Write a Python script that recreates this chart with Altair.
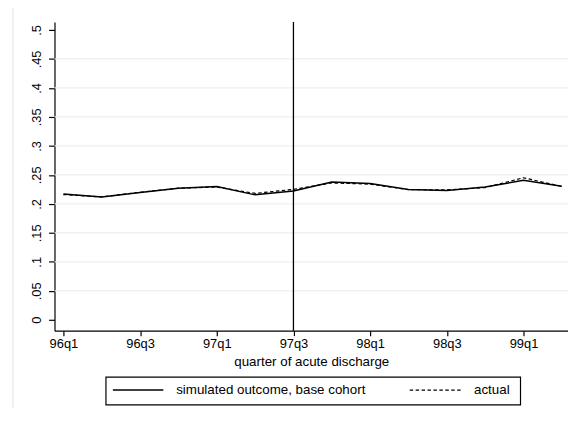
import altair as alt
import pandas as pd

# ---- data ----
quarters = ["96q1", "96q2", "96q3", "96q4", "97q1", "97q2", "97q3",
            "97q4", "98q1", "98q2", "98q3", "98q4", "99q1", "99q2"]
simulated = [0.217, 0.212, 0.2195, 0.227, 0.230, 0.2155, 0.222,
             0.2378, 0.235, 0.2247, 0.223, 0.229, 0.2406, 0.2304]
actual = [0.216, 0.212, 0.220, 0.227, 0.229, 0.218, 0.225,
          0.236, 0.234, 0.2245, 0.224, 0.228, 0.245, 0.230]
series_names = ["simulated outcome, base cohort", "actual"]
x_tick_labels = ["96q1", "96q3", "97q1", "97q3", "98q1", "98q3", "99q1"]
y_ticks = [0, 0.05, 0.1, 0.15, 0.2, 0.25, 0.3, 0.35, 0.4, 0.45, 0.5]
grid_values = [0.05, 0.1, 0.15, 0.2, 0.25, 0.3, 0.35, 0.4, 0.45]
vline_quarter = ["97q3"]

# ---- layout ----
W, H = 519, 312
STEP = 38.75
X0 = -9 / STEP
X1 = X0 + W / STEP
Y0, Y1 = -0.0188, 0.5137
FONT = "Liberation Sans"

df = pd.DataFrame({
    "i": list(range(len(quarters))),
    "quarter": quarters,
    "sim": simulated,
    "act": actual,
})
grid_df = pd.DataFrame({"g": grid_values})
vline_df = pd.DataFrame({"i": [quarters.index(q) for q in vline_quarter]})
one = pd.DataFrame({"a": [0]})

label_array = "[" + ",".join("'" + q + "'" for q in quarters) + "]"
x_axis = alt.Axis(
    values=[quarters.index(q) for q in x_tick_labels],
    labelExpr=label_array + "[datum.value]",
    title="quarter of acute discharge", grid=False, tickSize=5,
    labelPadding=2, labelFontSize=13, titleFontSize=13.5,
    titleFontWeight="normal", titlePadding=4, labelFlush=False,
    labelOverlap=False, labelFont=FONT, titleFont=FONT,
    domainColor="black", tickColor="black", labelColor="black",
    titleColor="black", domainWidth=1.2, tickWidth=1.2,
)
y_axis = alt.Axis(
    values=y_ticks,
    labelExpr="replace(format(datum.value, '.2~f'), '0.', '.')",
    labelAngle=270, labelAlign="center", labelBaseline="bottom",
    tickSize=6, labelPadding=5, grid=False, title=None,
    labelFontSize=13, labelFlush=False, labelOverlap=False,
    labelFont=FONT, domainColor="black", tickColor="black",
    labelColor="black", domainWidth=1.2, tickWidth=1.2,
)
x_scale = alt.Scale(domain=[X0, X1], nice=False, zero=False)
y_scale = alt.Scale(domain=[Y0, Y1], nice=False, zero=False)

frame = alt.Chart(one).mark_rect(
    fill="transparent", stroke="#e6eeee", strokeWidth=1.5
).encode(x=alt.value(-42), x2=alt.value(W + 40),
         y=alt.value(-16), y2=alt.value(H + 120))

grid = alt.Chart(grid_df).mark_rule(color="#e9f1f2", strokeWidth=1.2).encode(
    y=alt.Y("g:Q", scale=y_scale, axis=y_axis),
    x=alt.value(0), x2=alt.value(W),
)

vline = alt.Chart(vline_df).mark_rule(color="black", strokeWidth=1.3).encode(
    x=alt.X("i:Q", scale=x_scale, axis=x_axis),
)

line_sim = alt.Chart(df).mark_line(color="black", strokeWidth=1.5).encode(
    x=alt.X("i:Q", scale=x_scale, axis=x_axis),
    y=alt.Y("sim:Q", scale=y_scale, axis=y_axis),
)
line_act = alt.Chart(df).mark_line(
    color="black", strokeWidth=1.2, strokeDash=[3.5, 2.5]
).encode(
    x=alt.X("i:Q", scale=x_scale, axis=x_axis),
    y=alt.Y("act:Q", scale=y_scale, axis=y_axis),
)

# ---- legend (Stata-style box below the axis title) ----
LB_X0, LB_X1, LB_Y0, LB_Y1 = 52, 471, 359, 387
LY = 372
leg_box = alt.Chart(one).mark_rect(
    fill="white", stroke="black", strokeWidth=1.2
).encode(x=alt.value(LB_X0), x2=alt.value(LB_X1),
         y=alt.value(LB_Y0), y2=alt.value(LB_Y1))
leg_solid = alt.Chart(one).mark_rule(color="black", strokeWidth=1.5).encode(
    x=alt.value(59), x2=alt.value(110), y=alt.value(LY))
leg_dash = alt.Chart(one).mark_rule(
    color="black", strokeWidth=1.2, strokeDash=[3.5, 2.5]
).encode(x=alt.value(359), x2=alt.value(413), y=alt.value(LY))
leg_text1 = alt.Chart(one).mark_text(
    align="left", baseline="middle", fontSize=13.5, font=FONT, color="black"
).encode(x=alt.value(123), y=alt.value(LY), text=alt.value(series_names[0]))
leg_text2 = alt.Chart(one).mark_text(
    align="left", baseline="middle", fontSize=13.5, font=FONT, color="black"
).encode(x=alt.value(424), y=alt.value(LY), text=alt.value(series_names[1]))

chart = alt.layer(
    frame, grid, vline, line_sim, line_act,
    leg_box, leg_solid, leg_dash, leg_text1, leg_text2,
).properties(
    width=W, height=H,
    autosize=alt.AutoSizeParams(type="none"),
    padding={"left": 47, "top": 12, "right": 0, "bottom": 76},
    background="white",
).configure_view(stroke=None)

chart.save("out.html", embed_options={"renderer": "svg", "actions": False})
